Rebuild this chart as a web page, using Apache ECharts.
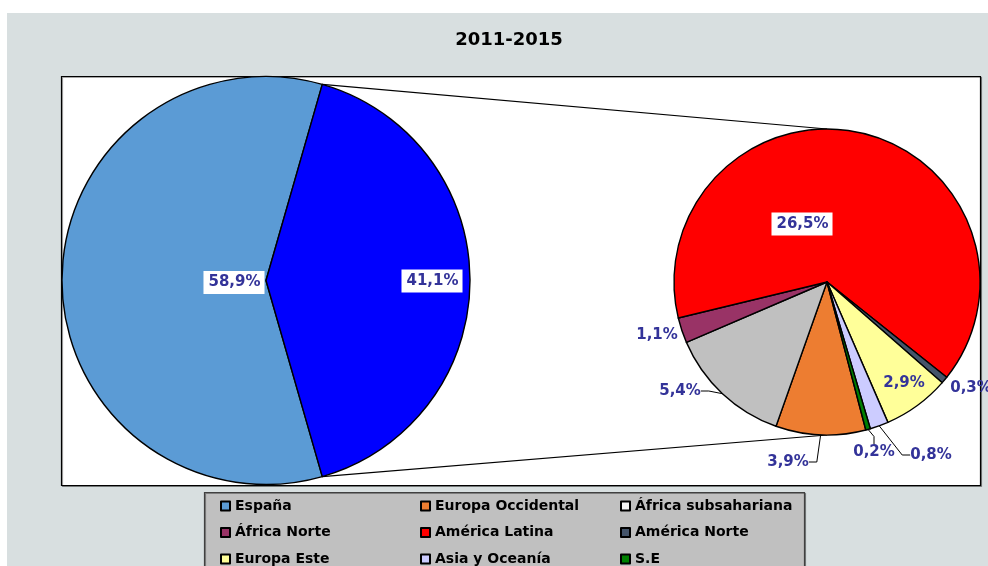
<!DOCTYPE html>
<html>
<head>
<meta charset="utf-8">
<script src="https://cdn.jsdelivr.net/npm/echarts@6/dist/echarts.min.js"></script>
<style>
  html, body { margin: 0; padding: 0; background: #fff; }
  #chart { width: 988px; height: 566px; }
</style>
</head>
<body>
<div id="chart"></div>
<script>
// datos 2011-2015 (% sobre el total)
const chartTitle = '2011-2015'
const mainName = 'España'
const mainValue = 58.9
const otherName = 'Otros'
const restNames = ['Europa Occidental', 'África subsahariana', 'África Norte', 'América Latina',
  'América Norte', 'Europa Este', 'Asia y Oceanía', 'S.E']
const restValues = [3.9, 5.4, 1.1, 26.5, 0.3, 2.9, 0.8, 0.2]
const colors = {
  'España': '#5B9BD5',
  'Otros': '#0000FF',
  'Europa Occidental': '#ED7D31',
  'África subsahariana': '#C0C0C0',
  'África Norte': '#993366',
  'América Latina': '#FF0000',
  'América Norte': '#44546A',
  'Europa Este': '#FFFF99',
  'Asia y Oceanía': '#CCCCFF',
  'S.E': '#008000'
}
const legendCols = [
  ['España', 'África Norte', 'Europa Este'],
  ['Europa Occidental', 'América Latina', 'Asia y Oceanía'],
  ['África subsahariana', 'América Norte', 'S.E']
]

// layout
const left = { cx: 266, cy: 280.5, r: 204 }
const right = { cx: 827, cy: 282, r: 153 }
const labelFont = { fontFamily: 'DejaVu Sans', fontWeight: 'bold', fontSize: 15, color: '#333399' }
// posiciones de etiquetas (centro), en el orden de los datos
const leftLabelPos = [[234, 282.5], [432, 281]]
const rightLabelPos = [[788, 462], [680, 391], [657, 335], [802, 224], [971, 388], [904, 383], [931, 455], [874, 452]]
const withLine = ['Europa Occidental', 'África subsahariana', 'Asia y Oceanía', 'S.E']
const insideBox = ['España', 'Otros', 'América Latina']

const otherValue = +restValues.reduce((a, b) => a + b, 0).toFixed(1)
const otherHalf = 360 * otherValue / (mainValue + otherValue) / 2

const fmt = p => p.value.toFixed(1).replace('.', ',') + '%'

function labelFor(name) {
  const l = Object.assign({}, labelFont)
  if (insideBox.includes(name)) {
    Object.assign(l, { backgroundColor: '#fff', padding: [3, 4, 3, 5], lineHeight: 17 })
  }
  return l
}

const chart = echarts.init(document.getElementById('chart'))

const rad = a => a * Math.PI / 180
const p1 = [left.cx + left.r * Math.cos(rad(otherHalf)), left.cy - left.r * Math.sin(rad(otherHalf))]
const p2 = [left.cx + left.r * Math.cos(rad(otherHalf)), left.cy + left.r * Math.sin(rad(otherHalf))]

chart.setOption({
  animation: false,
  title: {
    text: chartTitle,
    left: 504,
    top: 26,
    textAlign: 'center',
    textStyle: { fontFamily: 'DejaVu Sans', fontWeight: 'bold', fontSize: 18, color: '#000' }
  },
  graphic: [
    { type: 'rect', z: -10, shape: { x: 7, y: 13, width: 990, height: 560 }, style: { fill: '#D8DFE0' } },
    { type: 'rect', z: -9, shape: { x: 61.5, y: 76.5, width: 919, height: 409 },
      style: { fill: '#fff', stroke: '#000', lineWidth: 1.2, shadowColor: 'rgba(0,0,0,0.35)', shadowOffsetX: 1, shadowOffsetY: 1 } },
    { type: 'rect', z: -9, shape: { x: 204.5, y: 492.5, width: 600, height: 90 },
      style: { fill: '#C0C0C0', stroke: '#404040', lineWidth: 1.2, shadowColor: 'rgba(0,0,0,0.35)', shadowOffsetX: 1, shadowOffsetY: 1 } },
    { type: 'line', z: -5, shape: { x1: p1[0], y1: p1[1], x2: right.cx, y2: right.cy - right.r }, style: { stroke: '#000', lineWidth: 1.2 } },
    { type: 'line', z: -5, shape: { x1: p2[0], y1: p2[1], x2: right.cx, y2: right.cy + right.r }, style: { stroke: '#000', lineWidth: 1.2 } }
  ],
  legend: legendCols.map((col, i) => ({
    orient: 'vertical',
    left: 220 + i * 200,
    top: 497.5,
    height: 120,
    padding: 0,
    itemWidth: 9,
    itemHeight: 9,
    itemGap: 9.5,
    icon: 'rect',
    selectedMode: false,
    textStyle: { fontFamily: 'DejaVu Sans', fontWeight: 'bold', fontSize: 14, color: '#000', lineHeight: 17 },
    data: col.map(n => n === 'África subsahariana' ? { name: n, itemStyle: { color: '#F4F4F4' } } : n)
  })),
  series: [
    {
      type: 'pie',
      center: [left.cx, left.cy],
      radius: left.r,
      startAngle: 360 - otherHalf,
      clockwise: true,
      avoidLabelOverlap: false,
      itemStyle: { borderColor: '#000', borderWidth: 1.4 },
      label: { position: 'inside', formatter: fmt },
      labelLine: { show: false },
      labelLayout: p => ({ x: leftLabelPos[p.dataIndex][0], y: leftLabelPos[p.dataIndex][1], align: 'center', verticalAlign: 'middle' }),
      emphasis: { disabled: true },
      data: [
        { name: mainName, value: mainValue, itemStyle: { color: colors[mainName] }, label: labelFor(mainName) },
        { name: otherName, value: otherValue, itemStyle: { color: colors[otherName] }, label: labelFor(otherName) }
      ]
    },
    {
      type: 'pie',
      center: [right.cx, right.cy],
      radius: right.r,
      startAngle: 284.7,
      clockwise: true,
      avoidLabelOverlap: false,
      itemStyle: { borderColor: '#000', borderWidth: 1.4 },
      label: { position: 'outside', formatter: fmt },
      labelLine: { show: false, length: 8, length2: 8, lineStyle: { color: '#000', width: 1 } },
      labelLayout: p => ({ x: rightLabelPos[p.dataIndex][0], y: rightLabelPos[p.dataIndex][1], align: 'center', verticalAlign: 'middle' }),
      emphasis: { disabled: true },
      data: restNames.map((n, i) => ({
        name: n,
        value: restValues[i],
        itemStyle: { color: colors[n] },
        label: labelFor(n),
        labelLine: { show: withLine.includes(n) }
      }))
    }
  ]
})
</script>
</body>
</html>
